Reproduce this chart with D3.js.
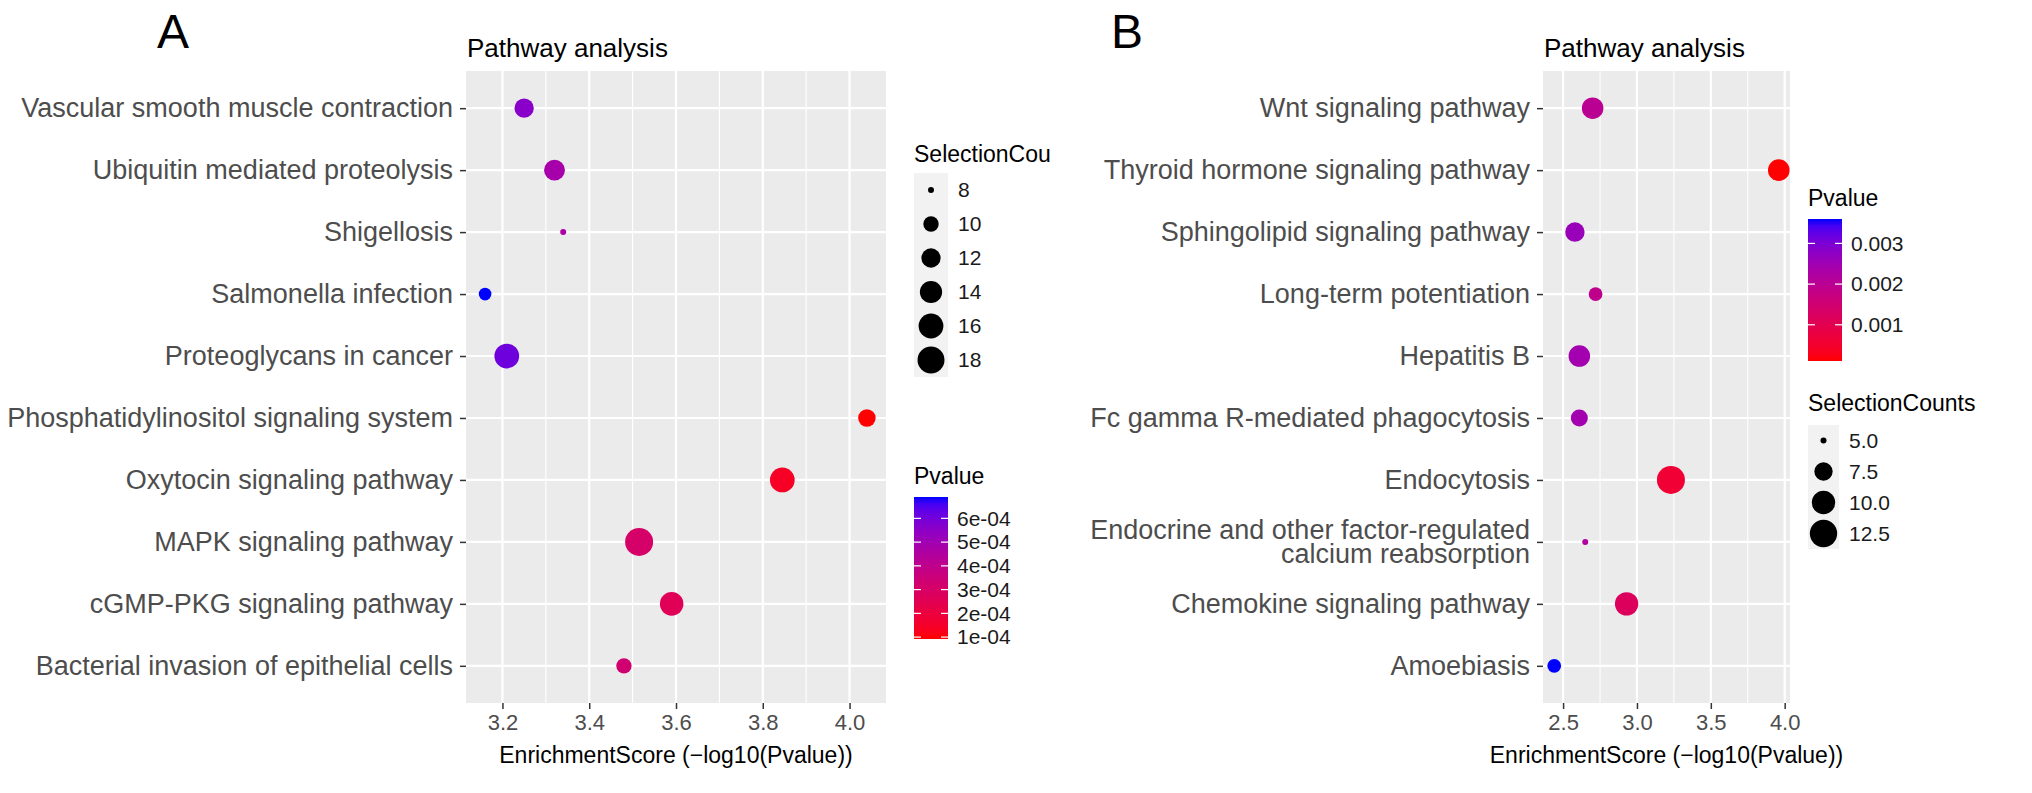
<!DOCTYPE html>
<html>
<head>
<meta charset="utf-8">
<script src="https://cdn.jsdelivr.net/npm/d3@7.9.0/dist/d3.min.js"></script>
<style>
  body { margin: 0; background: #fff; }
  svg text { font-family: "Liberation Sans", Arial, Helvetica, sans-serif; }
</style>
</head>
<body>
<svg id="chart" width="2032" height="793"></svg>
<script>
// panel A (top to bottom)
const pathwaysA = ["Vascular smooth muscle contraction", "Ubiquitin mediated proteolysis", "Shigellosis",
  "Salmonella infection", "Proteoglycans in cancer", "Phosphatidylinositol signaling system",
  "Oxytocin signaling pathway", "MAPK signaling pathway", "cGMP-PKG signaling pathway",
  "Bacterial invasion of epithelial cells"];
const scoresA = [3.25, 3.32, 3.34, 3.16, 3.21, 4.04, 3.845, 3.515, 3.59, 3.48];
const pvaluesA = [5.6e-4, 4.8e-4, 4.6e-4, 6.9e-4, 6.1e-4, 9.2e-5, 1.43e-4, 3.06e-4, 2.57e-4, 3.3e-4];
const countsA = [12, 13, 8, 9, 16, 11, 16, 19, 15, 10];
const xTicksA = [3.2, 3.4, 3.6, 3.8, 4.0];
const sizeBreaksA = [8, 10, 12, 14, 16, 18];
const pTicksA = [1e-4, 2e-4, 3e-4, 4e-4, 5e-4, 6e-4];

// panel B (top to bottom)
const pathwaysB = ["Wnt signaling pathway", "Thyroid hormone signaling pathway", "Sphingolipid signaling pathway",
  "Long-term potentiation", "Hepatitis B", "Fc gamma R-mediated phagocytosis", "Endocytosis",
  "Endocrine and other factor-regulated\ncalcium reabsorption", "Chemokine signaling pathway", "Amoebiasis"];
const scoresB = [2.70, 3.96, 2.58, 2.72, 2.61, 2.61, 3.23, 2.65, 2.93, 2.44];
const pvaluesB = [0.0020, 0.00011, 0.0026, 0.0019, 0.00245, 0.00245, 0.00059, 0.0022, 0.00117, 0.0036];
const countsB = [9, 9, 8, 6, 9, 7, 13, 5, 10, 6];
const xTicksB = [2.5, 3.0, 3.5, 4.0];
const sizeBreaksB = [5, 7.5, 10, 12.5];
const pTicksB = [0.001, 0.002, 0.003];

const svg = d3.select("#chart");
const TOP = 71, BOTTOM = 703;
const FONT = '"Liberation Sans", Arial, Helvetica, sans-serif';
const rScale = d3.scaleLinear().domain([0, 1]).range([3, 14]);

function expand(ext) {
  const d = (ext[1] - ext[0]) * 0.05;
  return [ext[0] - d, ext[1] + d];
}

function drawPanel(p) {
  const g = svg.append("g");
  const x = d3.scaleLinear().domain(expand(d3.extent(p.scores))).range([p.left, p.right]);
  const y = d3.scalePoint().domain(p.pathways).range([TOP, BOTTOM]).padding(0.6);
  const color = d3.scaleLinear().domain(d3.extent(p.pvalues)).range(["red", "blue"]).interpolate(d3.interpolateLab);
  const cext = d3.extent(p.counts);
  const radius = c => rScale(Math.sqrt((c - cext[0]) / (cext[1] - cext[0])));

  g.append("rect").attr("x", p.left).attr("y", TOP)
    .attr("width", p.right - p.left).attr("height", BOTTOM - TOP).attr("fill", "#EBEBEB");

  // minor grid between major ticks
  const step = p.xTicks[1] - p.xTicks[0];
  const minor = [p.xTicks[0] - step / 2, ...p.xTicks.map(t => t + step / 2)]
    .filter(v => v > x.domain()[0] && v < x.domain()[1]);
  g.selectAll(".minor").data(minor).join("line")
    .attr("x1", d => x(d)).attr("x2", d => x(d)).attr("y1", TOP).attr("y2", BOTTOM)
    .attr("stroke", "#fff").attr("stroke-width", 1.1);
  g.selectAll(".vmajor").data(p.xTicks).join("line")
    .attr("x1", d => x(d)).attr("x2", d => x(d)).attr("y1", TOP).attr("y2", BOTTOM)
    .attr("stroke", "#fff").attr("stroke-width", 2.2);
  g.selectAll(".hmajor").data(p.pathways).join("line")
    .attr("x1", p.left).attr("x2", p.right).attr("y1", d => y(d)).attr("y2", d => y(d))
    .attr("stroke", "#fff").attr("stroke-width", 2.2);

  g.selectAll("circle.dot").data(p.pathways).join("circle")
    .attr("cx", (d, i) => x(p.scores[i]))
    .attr("cy", d => y(d))
    .attr("r", (d, i) => radius(p.counts[i]))
    .attr("fill", (d, i) => color(p.pvalues[i]));

  const yAxis = g.append("g").attr("transform", `translate(${p.left},0)`)
    .call(d3.axisLeft(y).tickSize(6).tickPadding(7));
  yAxis.attr("font-family", FONT).attr("font-size", 27);
  yAxis.select(".domain").remove();
  yAxis.selectAll("line").attr("stroke", "#333").attr("stroke-width", 1.5);
  yAxis.selectAll("text").attr("fill", "#4D4D4D").each(function (d) {
    const lines = d.split("\n");
    if (lines.length > 1) {
      const t = d3.select(this).text(null).attr("dy", null);
      t.append("tspan").attr("x", -13).attr("y", -3).text(lines[0]);
      t.append("tspan").attr("x", -13).attr("y", 21).text(lines[1]);
    }
  });

  const xAxis = g.append("g").attr("transform", `translate(0,${BOTTOM})`)
    .call(d3.axisBottom(x).tickValues(p.xTicks).tickFormat(d3.format(".1f")).tickSize(6).tickPadding(5));
  xAxis.attr("font-family", FONT).attr("font-size", 22);
  xAxis.select(".domain").remove();
  xAxis.selectAll("line").attr("stroke", "#333").attr("stroke-width", 1.5);
  xAxis.selectAll("text").attr("fill", "#4D4D4D");

  g.append("text").attr("x", (p.left + p.right) / 2).attr("y", 763)
    .attr("text-anchor", "middle").attr("font-size", 23)
    .text("EnrichmentScore (\u2212log10(Pvalue))");
  g.append("text").attr("x", p.left + 1).attr("y", 57).attr("font-size", 26).text("Pathway analysis");
  g.append("text").attr("x", p.letterX).attr("y", 48).attr("font-size", 48).text(p.letter);

  return { color, radius };
}

function drawSizeLegend(x0, titleY, title, breaks, radius, keyTop, key, fmt) {
  const g = svg.append("g");
  g.append("text").attr("x", x0).attr("y", titleY).attr("font-size", 23).text(title);
  const rows = g.selectAll("g.key").data(breaks).join("g")
    .attr("transform", (d, i) => `translate(${x0},${keyTop + i * key})`);
  rows.append("rect").attr("width", key).attr("height", key).attr("fill", "#F2F2F2");
  rows.append("circle").attr("cx", key / 2).attr("cy", key / 2).attr("r", d => radius(d)).attr("fill", "#000");
  rows.append("text").attr("x", key + 10).attr("y", key / 2).attr("dy", "0.35em")
    .attr("font-size", 21).attr("fill", "#1a1a1a").text(d => fmt(d));
}

function drawColorbar(id, x0, titleY, barTop, barH, color, ticks, fmt) {
  const g = svg.append("g");
  const barW = 34;
  g.append("text").attr("x", x0).attr("y", titleY).attr("font-size", 23).text("Pvalue");
  const dom = color.domain();
  const grad = svg.append("defs").append("linearGradient").attr("id", id)
    .attr("x1", 0).attr("x2", 0).attr("y1", 1).attr("y2", 0);
  d3.range(0, 1.0001, 0.05).forEach(t => {
    grad.append("stop").attr("offset", t).attr("stop-color", color(dom[0] + t * (dom[1] - dom[0])));
  });
  g.append("rect").attr("x", x0).attr("y", barTop).attr("width", barW).attr("height", barH)
    .attr("fill", `url(#${id})`);
  const yb = d3.scaleLinear().domain(dom).range([barTop + barH, barTop]);
  ticks.forEach(t => {
    g.append("line").attr("x1", x0).attr("x2", x0 + 7).attr("y1", yb(t)).attr("y2", yb(t))
      .attr("stroke", "#fff").attr("stroke-width", 1.2);
    g.append("line").attr("x1", x0 + barW - 7).attr("x2", x0 + barW).attr("y1", yb(t)).attr("y2", yb(t))
      .attr("stroke", "#fff").attr("stroke-width", 1.2);
    g.append("text").attr("x", x0 + barW + 9).attr("y", yb(t)).attr("dy", "0.35em")
      .attr("font-size", 21).attr("fill", "#1a1a1a").text(fmt(t));
  });
}

const a = drawPanel({ pathways: pathwaysA, scores: scoresA, pvalues: pvaluesA, counts: countsA,
  xTicks: xTicksA, left: 466, right: 886, letter: "A", letterX: 157 });
const b = drawPanel({ pathways: pathwaysB, scores: scoresB, pvalues: pvaluesB, counts: countsB,
  xTicks: xTicksB, left: 1543, right: 1790, letter: "B", letterX: 1111 });

const expFmt = d => d.toExponential(0).replace(/e-(\d)$/, "e-0$1");
drawSizeLegend(914, 162, "SelectionCou", sizeBreaksA, a.radius, 173, 34, d3.format("d"));
drawColorbar("gradA", 914, 484, 497, 142, a.color, pTicksA, expFmt);

drawColorbar("gradB", 1808, 206, 219, 142, b.color, pTicksB, d3.format(".3f"));
drawSizeLegend(1808, 411, "SelectionCounts", sizeBreaksB, b.radius, 425, 31, d3.format(".1f"));
</script>
</body>
</html>
